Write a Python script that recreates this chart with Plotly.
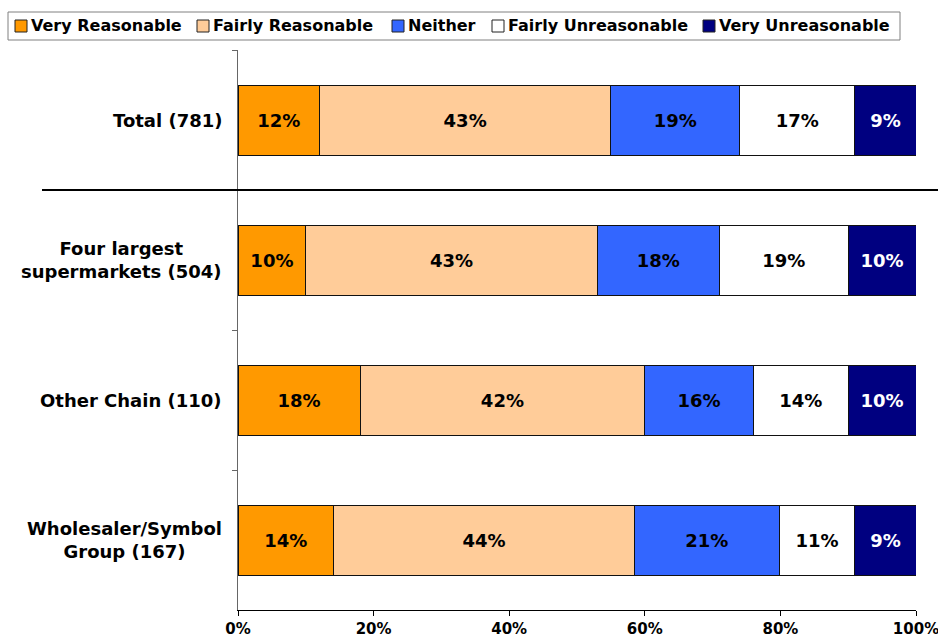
"""Stacked bar chart: reasonableness ratings by retailer type"""

import plotly.graph_objects as go

categories = [
    "Total (781)",
    "Four largest<br>supermarkets (504)",
    "Other Chain (110)",
    "Wholesaler/Symbol<br>Group (167)",
]
series_names = [
    "Very Reasonable",
    "Fairly Reasonable",
    "Neither",
    "Fairly Unreasonable",
    "Very Unreasonable",
]
very_reasonable = [12, 10, 18, 14.1]
fairly_reasonable = [43, 43, 42, 44.4]
neither = [19, 18, 16, 21.3]
fairly_unreasonable = [17, 19, 14, 11.2]
very_unreasonable = [9, 10, 10, 9.0]
x_ticks = [0, 20, 40, 60, 80, 100]

colors = ["#FF9900", "#FFCC99", "#3366FF", "#FFFFFF", "#000080"]
text_colors = ["black", "black", "black", "black", "white"]
FONT = "DejaVu Sans"

# page geometry (pixels)
W, H = 938, 641
L, R, T, B = 238, 22, 50, 31
PW, PH = W - L - R, H - T - B


def px_x(x):
    return (x - L) / PW


def px_y(y):
    return (H - B - y) / PH


fig = go.Figure()
for name, vals, col, tcol in zip(
    series_names,
    [very_reasonable, fairly_reasonable, neither, fairly_unreasonable, very_unreasonable],
    colors,
    text_colors,
):
    fig.add_trace(go.Bar(
        y=categories,
        x=vals,
        name=name,
        orientation="h",
        marker=dict(color=col, line=dict(color="#111111", width=1)),
        texttemplate="%{x:.0f}%",
        textposition="inside",
        insidetextanchor="middle",
        constraintext="none",
        textfont=dict(family=FONT, size=18, color=tcol, weight="bold"),
        hoverinfo="skip",
        showlegend=False,
    ))

# category labels, centred like the original
for cat in categories:
    fig.add_annotation(
        x=px_x(224), xref="paper", y=cat, yref="y",
        text=cat, showarrow=False, xanchor="right", align="center",
        font=dict(family=FONT, size=18, color="black", weight="bold"),
    )

# separator under the total row
fig.add_shape(
    type="line", xref="paper", yref="y",
    x0=px_x(42), x1=px_x(940), y0=0.5, y1=0.5,
    line=dict(color="black", width=2), layer="above",
)

# legend box drawn by hand so it stays on one line like the original
fig.add_shape(
    type="rect", xref="paper", yref="paper",
    x0=px_x(8), x1=px_x(900), y0=px_y(40), y1=px_y(12),
    line=dict(color="#808080", width=1), fillcolor="white",
)
legend_x = [15, 197, 392, 492, 703]
for name, col, lx in zip(series_names, colors, legend_x):
    fig.add_shape(
        type="rect", xref="paper", yref="paper",
        x0=px_x(lx), x1=px_x(lx + 12), y0=px_y(32), y1=px_y(20),
        line=dict(color="#222222", width=1), fillcolor=col,
    )
    fig.add_annotation(
        x=px_x(lx + 14), xref="paper", y=px_y(26), yref="paper",
        text=name, showarrow=False, xanchor="left", yanchor="middle",
        font=dict(family=FONT, size=16, color="black", weight="bold"),
    )

fig.update_layout(
    width=W,
    height=H,
    barmode="stack",
    bargap=0.5,
    plot_bgcolor="white",
    paper_bgcolor="white",
    margin=dict(l=L, r=R, t=T, b=B),
    font=dict(family=FONT, size=15, color="black"),
    showlegend=False,
    xaxis=dict(
        range=[0, 100],
        tickvals=x_ticks,
        ticktext=[f"{t}%" for t in x_ticks],
        showgrid=False,
        zeroline=False,
        showline=True,
        linecolor="black",
        linewidth=1,
        ticks="outside",
        ticklen=5,
        tickcolor="black",
        tickfont=dict(family=FONT, size=15, weight="bold"),
        ticklabeloverflow="allow",
        automargin=False,
    ),
    yaxis=dict(
        autorange="reversed",
        showticklabels=False,
        showgrid=False,
        zeroline=False,
        showline=True,
        linecolor="#666666",
        linewidth=1,
        ticks="outside",
        tickson="boundaries",
        ticklen=5,
        tickcolor="#666666",
        automargin=False,
    ),
)

# drop the browser's default 8px body margin so the figure fills the window
fig.write_html(
    "out.html",
    config={"displayModeBar": False},
    post_script="document.body.style.margin = '0';",
)
